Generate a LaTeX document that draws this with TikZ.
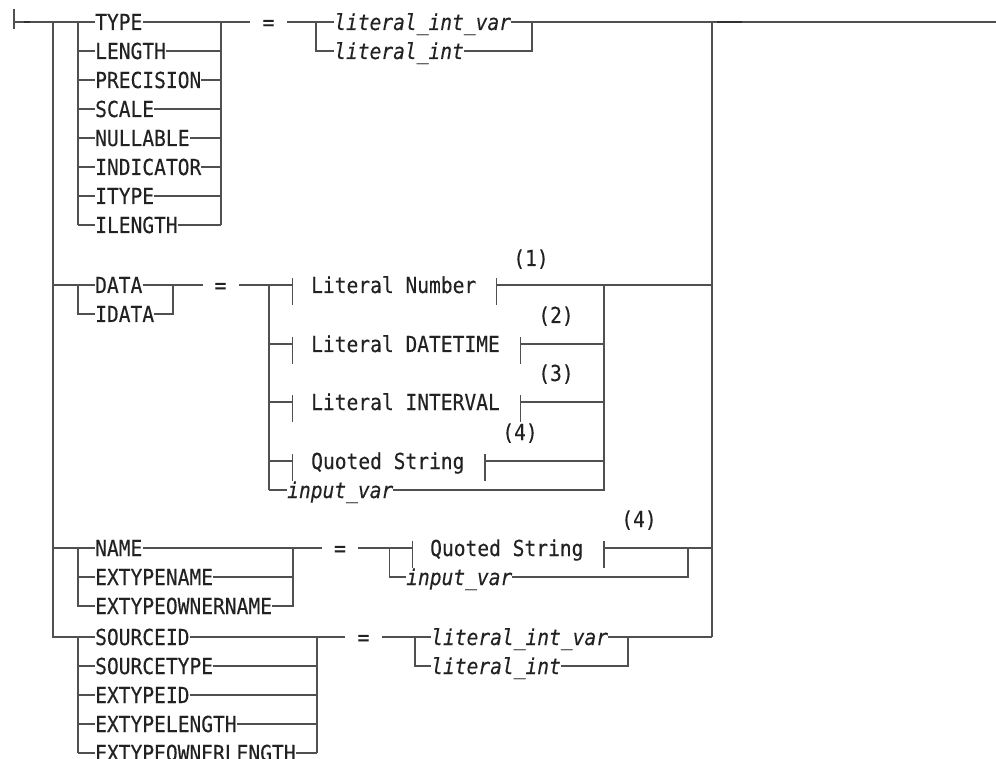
\documentclass[tikz,border=0pt]{standalone}
\usepackage{fontspec}
\newfontfamily\rrfont[FakeStretch=0.89,FakeBold=0.3]{DejaVu Sans Mono}
\definecolor{railc}{HTML}{505050}
\definecolor{txtc}{HTML}{222222}
\newcommand\rrsize{\fontsize{22pt}{26pt}\selectfont}
\tikzset{
  rail/.style={draw=railc, line width=1.2pt, line join=miter},
  heavy/.style={draw=railc!60!black, line width=2.2pt},
  kw/.style={anchor=west, inner sep=0pt, text height=16pt, text depth=0pt, font=\rrfont\rrsize, text=txtc},
  var/.style={kw, font=\rrfont\rrsize\itshape},
  eqsign/.style={kw, anchor=center},
  fnote/.style={kw, anchor=center},
}
\newcommand\fbar[2]{\draw[rail] (#1,#2-7) -- (#1,#2+20);}
\begin{document}
\begin{tikzpicture}[x=1pt,y=-1pt]
\useasboundingbox (0,0) rectangle (996,759);
\clip (0,0) rectangle (996,759);

% start
\coordinate (start) at (14,22);
\draw[rail] (14,9) -- (14,29);
\draw[rail] (start) -- (78,22);
\draw[heavy] (24,22) -- (30,22);

% main left vertical
\draw[rail] (53,22) -- (53,637) -- (78,637);
\draw[rail] (53,285) -- (78,285);
\draw[rail] (53,548) -- (78,548);

% ---- group 1
\foreach \n/\t/\y in {TYPE/TYPE/22, LENGTH/LENGTH/51, PREC/PRECISION/80, SCALE/SCALE/109,
  NULL/NULLABLE/138, IND/INDICATOR/167, ITYPE/ITYPE/196, ILEN/ILENGTH/225} {
  \node[kw] (\n) at (95,\y) {\t};
  \draw[rail] (78,\y) -- (\n.west);
  \draw[rail] (\n.east) -- (221,\y);
}
\draw[rail] (78,22) -- (78,225);
\draw[rail] (221,22) -- (221,225);
\draw[rail] (221,22) -- (250,22);
\node[eqsign] (eq1) at (268.5,22) {=};
\node[var] (LIVa) at (334,22) {literal\_int\_var};
\node[var] (LIa) at (334,51) {literal\_int};
\draw[rail] (287,22) -- (LIVa.west);
\draw[rail] (316,22) -- (316,51) -- (LIa.west);
\draw[rail] (LIVa.east) -- (996,22);
\draw[rail] (LIa.east) -- (532,51) -- (532,22);
\draw[heavy] (717,22) -- (742,22);
\draw[rail] (712,22) -- (712,637);

% ---- group 2
\node[kw] (DATA) at (95,285) {DATA};
\node[kw] (IDATA) at (95,314) {IDATA};
\draw[rail] (78,285) -- (DATA.west);
\draw[rail] (78,285) -- (78,314) -- (IDATA.west);
\draw[rail] (DATA.east) -- (203,285);
\draw[rail] (IDATA.east) -- (173,314) -- (173,285);
\node[eqsign] (eq2) at (220.5,285) {=};
\draw[rail] (239,285) -- (292.7,285);
\draw[rail] (269,285) -- (269,490);
\node[kw] (LN) at (311,285) {Literal Number};
\fbar{292.7}{285}\fbar{496.7}{285}
\draw[rail] (496.7,285) -- (712,285);
\node[kw] (LD) at (311,344) {Literal DATETIME};
\draw[rail] (269,344) -- (292.7,344);
\fbar{292.7}{344}\fbar{520.7}{344}
\draw[rail] (520.7,344) -- (604,344);
\node[kw] (LIN) at (311,402) {Literal INTERVAL};
\draw[rail] (269,402) -- (292.7,402);
\fbar{292.7}{402}\fbar{520.7}{402}
\draw[rail] (520.7,402) -- (604,402);
\node[kw] (QS) at (311,461) {Quoted String};
\draw[rail] (269,461) -- (292.7,461);
\fbar{292.7}{461}\fbar{485}{461}
\draw[rail] (485,461) -- (604,461);
\node[var] (IVa) at (287,490) {input\_var};
\draw[rail] (269,490) -- (IVa.west);
\draw[rail] (IVa.east) -- (604,490) -- (604,285);
\node[fnote] (n1) at (531,258) {(1)};
\node[fnote] (n2) at (556,315) {(2)};
\node[fnote] (n3) at (556,373) {(3)};
\node[fnote] (n4) at (520,432) {(4)};

% ---- group 3
\node[kw] (NAME) at (95,548) {NAME};
\node[kw] (EXN) at (95,577) {EXTYPENAME};
\node[kw] (EXON) at (95,606) {EXTYPEOWNERNAME};
\draw[rail] (78,548) -- (NAME.west);
\draw[rail] (78,577) -- (EXN.west);
\draw[rail] (78,548) -- (78,606) -- (EXON.west);
\draw[rail] (NAME.east) -- (322,548);
\draw[rail] (EXN.east) -- (293,577);
\draw[rail] (EXON.east) -- (293,606) -- (293,548);
\node[eqsign] (eq3) at (340,548) {=};
\draw[rail] (358,548) -- (412.7,548);
\fbar{412.7}{548}\fbar{604}{548}
\node[kw] (QSb) at (430,548) {Quoted String};
\draw[rail] (604,548) -- (712,548);
\node[var] (IVb) at (406,577) {input\_var};
\draw[rail] (389.3,548) -- (389.3,577) -- (IVb.west);
\draw[rail] (IVb.east) -- (688,577) -- (688,548);
\node[fnote] (n5) at (639,519) {(4)};

% ---- group 4
\foreach \n/\t/\y in {SID/SOURCEID/637, STY/SOURCETYPE/666, EID/EXTYPEID/695,
  ELEN/EXTYPELENGTH/724, EOL/EXTYPEOWNERLENGTH/753} {
  \node[kw] (\n) at (95,\y) {\t};
  \draw[rail] (78,\y) -- (\n.west);
  \draw[rail] (\n.east) -- (317,\y);
}
\draw[rail] (78,637) -- (78,753);
\draw[rail] (317,637) -- (317,753);
\draw[rail] (317,637) -- (345,637);
\node[eqsign] (eq4) at (363.5,637) {=};
\node[var] (LIVb) at (431,637) {literal\_int\_var};
\node[var] (LIb) at (431,666) {literal\_int};
\draw[rail] (382,637) -- (LIVb.west);
\draw[rail] (415,637) -- (415,666) -- (LIb.west);
\draw[rail] (LIVb.east) -- (712,637);
\draw[rail] (LIb.east) -- (628,666) -- (628,637);
\end{tikzpicture}
\end{document}
